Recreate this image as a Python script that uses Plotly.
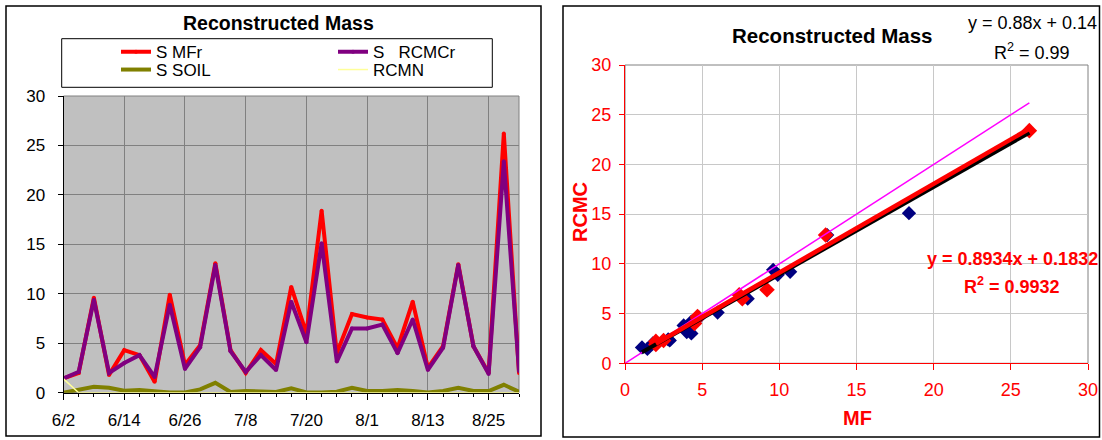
import plotly.graph_objects as go

W, H = 1102, 440

# ---------------- data ----------------
dates = ["2004-06-02", "2004-06-05", "2004-06-08", "2004-06-11", "2004-06-14", "2004-06-17",
         "2004-06-20", "2004-06-23", "2004-06-26", "2004-06-29", "2004-07-02", "2004-07-05",
         "2004-07-08", "2004-07-11", "2004-07-14", "2004-07-17", "2004-07-20", "2004-07-23",
         "2004-07-26", "2004-07-29", "2004-08-01", "2004-08-04", "2004-08-07", "2004-08-10",
         "2004-08-13", "2004-08-16", "2004-08-19", "2004-08-22", "2004-08-25", "2004-08-28",
         "2004-08-31"]
MF = [1.45, 2.0, 9.6, 1.8, 4.3, 3.8, 1.1, 9.9, 2.8, 4.8, 13.1, 4.3, 2.0, 4.3, 2.9, 10.7,
      6.0, 18.4, 4.0, 7.95, 7.6, 7.4, 4.5, 9.2, 2.5, 4.7, 13.0, 4.7, 2.0, 26.2, 2.0]
RCMC = [1.45, 2.1, 9.4, 2.0, 3.0, 3.8, 1.6, 8.9, 2.4, 4.6, 12.9, 4.2, 2.1, 3.8, 2.3, 9.2,
        5.1, 15.1, 3.15, 6.5, 6.5, 6.9, 4.0, 7.4, 2.3, 4.55, 12.9, 4.7, 1.9, 23.4, 2.2]
SOIL = [0.0, 0.33, 0.6, 0.5, 0.2, 0.27, 0.14, 0.03, 0.03, 0.33, 1.0, 0.07, 0.17, 0.17, 0.07,
        0.44, 0.03, 0.03, 0.1, 0.5, 0.17, 0.17, 0.27, 0.17, 0.03, 0.17, 0.5, 0.17, 0.17, 0.8, 0.1]
RCMN = [1.4] + [0.0] * 30

series_names = ["S MFr", "S   RCMCr", "S SOIL", "RCMN"]
series_colors = ["#FF0000", "#800080", "#808000", "#FFFF99"]

x_tick_labels = ["6/2", "6/14", "6/26", "7/8", "7/20", "8/1", "8/13", "8/25"]
y_ticks = [0, 5, 10, 15, 20, 25, 30]
scatter_ticks = [0, 5, 10, 15, 20, 25, 30]

# trend lines (as printed on the chart)
fit_all = {"slope": 0.88, "intercept": 0.14, "text": "y = 0.88x + 0.14", "r2": "0.99"}
fit_aug = {"slope": 0.8934, "intercept": 0.1832, "text": "y = 0.8934x + 0.1832", "r2": "0.9932"}

# June-July in blue, August in red
is_aug = [d[5:7] == "08" for d in dates]
MF_jj = [m for m, a in zip(MF, is_aug) if not a]
RC_jj = [r for r, a in zip(RCMC, is_aug) if not a]
MF_au = [m for m, a in zip(MF, is_aug) if a]
RC_au = [r for r, a in zip(RCMC, is_aug) if a]

FONT = "Liberation Sans, Arial, sans-serif"


def px(x):
    return x / W


def py(y):
    return 1 - y / H


fig = go.Figure()

# ---------------- left chart: time series ----------------
traces = [MF, RCMC, SOIL, RCMN]
widths = [4, 4, 4, 1.5]
modes = ["lines+markers", "lines+markers", "lines", "lines"]
legends = ["legend", "legend2", "legend3", "legend4"]
for vals, name, col, w, mode, lg in zip(traces, series_names, series_colors, widths, modes, legends):
    fig.add_trace(go.Scatter(
        x=dates, y=vals, mode=mode, name=name,
        line=dict(color=col, width=w),
        marker=dict(size=4, color=col),
        legend=lg, xaxis="x", yaxis="y"))

# ---------------- right chart: scatter ----------------
fig.add_trace(go.Scatter(x=MF_jj, y=RC_jj, mode="markers", showlegend=False,
                         marker=dict(symbol="diamond", size=11, color="#000080"),
                         xaxis="x2", yaxis="y2"))
fig.add_trace(go.Scatter(x=MF_au, y=RC_au, mode="markers", showlegend=False,
                         marker=dict(symbol="diamond", size=12, color="#FF0000"),
                         xaxis="x2", yaxis="y2"))
# 1:1 line
fig.add_trace(go.Scatter(x=[0, max(MF)], y=[0, max(MF)], mode="lines", showlegend=False,
                         line=dict(color="#FF00FF", width=1.5), xaxis="x2", yaxis="y2"))
# black trendline (all data)
xa = [min(MF), max(MF)]
fig.add_trace(go.Scatter(x=xa, y=[fit_all["slope"] * v + fit_all["intercept"] for v in xa],
                         mode="lines", showlegend=False,
                         line=dict(color="#000000", width=4), xaxis="x2", yaxis="y2"))
# red trendline (August)
xr = [min(MF_au), max(MF_au)]
fig.add_trace(go.Scatter(x=xr, y=[fit_aug["slope"] * v + fit_aug["intercept"] for v in xr],
                         mode="lines", showlegend=False,
                         line=dict(color="#FF0000", width=4.5), xaxis="x2", yaxis="y2"))

# ---------------- geometry ----------------
L_x0, L_x1, L_y0, L_y1 = 63.5, 519.0, 96.0, 392.7
R_x0, R_x1, R_y0, R_y1 = 625.0, 1088.0, 65.0, 363.3

shapes = [
    # outer chart borders
    dict(type="rect", xref="paper", yref="paper", x0=px(6), x1=px(541), y0=py(6), y1=py(436),
         line=dict(color="black", width=1.5), layer="above"),
    dict(type="rect", xref="paper", yref="paper", x0=px(563), x1=px(1099.5), y0=py(6), y1=py(437),
         line=dict(color="black", width=1.5), layer="above"),
    # left plot area background and frame
    dict(type="rect", xref="paper", yref="paper", x0=px(L_x0), x1=px(L_x1), y0=py(L_y1), y1=py(L_y0),
         fillcolor="#C0C0C0", line=dict(color="#808080", width=1), layer="below"),
    # right plot frame
    dict(type="rect", xref="paper", yref="paper", x0=px(R_x0), x1=px(R_x1), y0=py(R_y1), y1=py(R_y0),
         line=dict(color="#808080", width=1), layer="below"),
    # legend box
    dict(type="rect", xref="paper", yref="paper", x0=px(61.7), x1=px(492.3), y0=py(38.7), y1=py(87.3),
         line=dict(color="black", width=1), fillcolor="white", layer="below"),
]

annotations = [
    dict(text="<b>Reconstructed Mass</b>", x=px(278), y=py(23), xref="paper", yref="paper",
         showarrow=False, xanchor="center", yanchor="middle", font=dict(size=19.5, color="black")),
    dict(text="<b>Reconstructed Mass</b>", x=px(832), y=py(36), xref="paper", yref="paper",
         showarrow=False, xanchor="center", yanchor="middle", font=dict(size=20.5, color="black")),
    dict(text=fit_all["text"], x=px(1032), y=py(23), xref="paper", yref="paper",
         showarrow=False, xanchor="center", yanchor="middle", font=dict(size=18, color="black")),
    dict(text="R<sup>2</sup> = " + fit_all["r2"], x=px(1032), y=py(51), xref="paper", yref="paper",
         showarrow=False, xanchor="center", yanchor="middle", font=dict(size=18, color="black")),
    dict(text="<b>" + fit_aug["text"] + "</b>", x=px(1012), y=py(259), xref="paper", yref="paper",
         showarrow=False, xanchor="center", yanchor="middle", font=dict(size=18, color="#FF0000")),
    dict(text="<b>R<sup>2</sup> = " + fit_aug["r2"] + "</b>", x=px(1012), y=py(285), xref="paper",
         yref="paper", showarrow=False, xanchor="center", yanchor="middle",
         font=dict(size=18, color="#FF0000")),
    dict(text="<b>RCMC</b>", x=px(580), y=py(212), xref="paper", yref="paper", textangle=-90,
         showarrow=False, xanchor="center", yanchor="middle", font=dict(size=20, color="#FF0000")),
    dict(text="<b>MF</b>", x=px(857), y=py(418), xref="paper", yref="paper",
         showarrow=False, xanchor="center", yanchor="middle", font=dict(size=20, color="#FF0000")),
]


def legend_at(xp, yp):
    return dict(x=px(xp), y=py(yp), xanchor="left", yanchor="middle", xref="paper", yref="paper",
                bgcolor="rgba(0,0,0,0)", borderwidth=0, font=dict(size=17, color="black"),
                orientation="v")


fig.update_layout(
    width=W, height=H,
    margin=dict(l=0, r=0, t=0, b=0, pad=0, autoexpand=False),
    paper_bgcolor="white", plot_bgcolor="rgba(0,0,0,0)",
    font=dict(family=FONT, color="black"),
    showlegend=True,
    legend=legend_at(116, 52.3),
    legend2=legend_at(333, 52.3),
    legend3=legend_at(116, 70),
    legend4=legend_at(333, 70),
    shapes=shapes,
    annotations=annotations,
    xaxis=dict(
        domain=[px(L_x0), px(L_x1)], anchor="y", type="date", automargin=False,
        range=[dates[0], dates[-1]],
        tickmode="array", tickvals=dates[::4], ticktext=x_tick_labels,
        ticks="outside", ticklen=6, tickcolor="black", ticklabelstandoff=6,
        showline=True, linecolor="black", linewidth=1,
        showgrid=True, gridcolor="#808080", gridwidth=1, zeroline=False,
        tickfont=dict(size=17, color="black"),
        minor=dict(tickvals=dates, ticks="outside", ticklen=3, tickcolor="black", showgrid=False),
    ),
    yaxis=dict(
        domain=[py(L_y1), py(L_y0)], anchor="x", range=[0, 30], automargin=False,
        tickmode="array", tickvals=y_ticks,
        ticks="outside", ticklen=5, tickcolor="black", ticklabelstandoff=9,
        showline=True, linecolor="black", linewidth=1,
        showgrid=True, gridcolor="#808080", gridwidth=1, zeroline=False,
        tickfont=dict(size=17, color="black"),
    ),
    xaxis2=dict(
        domain=[px(R_x0), px(R_x1)], anchor="y2", range=[0, 30], automargin=False,
        tickmode="array", tickvals=scatter_ticks,
        ticks="outside", ticklen=6, tickcolor="#FF0000", ticklabelstandoff=4,
        showline=True, linecolor="#FF0000", linewidth=1,
        showgrid=True, gridcolor="#C8C8C8", gridwidth=1, zeroline=False,
        tickfont=dict(size=18, color="#FF0000"),
    ),
    yaxis2=dict(
        domain=[py(R_y1), py(R_y0)], anchor="x2", range=[0, 30], automargin=False,
        tickmode="array", tickvals=scatter_ticks,
        ticks="outside", ticklen=5, tickcolor="#FF0000", ticklabelstandoff=4,
        showline=True, linecolor="#FF0000", linewidth=1,
        showgrid=True, gridcolor="#C8C8C8", gridwidth=1, zeroline=False,
        tickfont=dict(size=18, color="#FF0000"),
    ),
)

fig.write_html("out.html",
               config={"displayModeBar": False},
               post_script="document.body.style.margin='0';document.body.style.padding='0';"
                           "document.body.style.overflow='hidden';")
